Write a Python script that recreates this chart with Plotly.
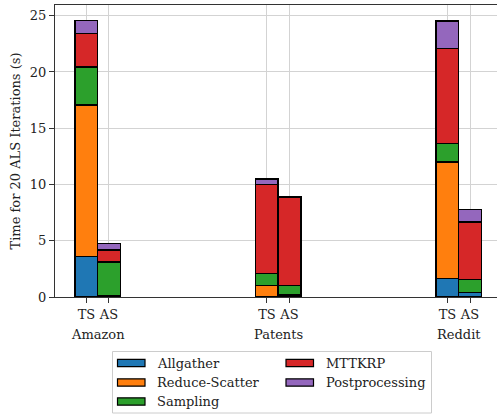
import plotly.graph_objects as go

# Per-phase timings (seconds for 20 ALS iterations)
datasets = ["Amazon", "Patents", "Reddit"]
methods = ["TS", "AS"]
phases = ["Allgather", "Reduce-Scatter", "Sampling", "MTTKRP", "Postprocessing"]
colors = ["#1f77b4", "#ff7f0e", "#2ca02c", "#d62728", "#9467bd"]

# order of values: Amazon TS, Amazon AS, Patents TS, Patents AS, Reddit TS, Reddit AS
allgather      = [3.62, 0.10, 0.05, 0.20, 1.64, 0.39]
reduce_scatter = [13.44, 0.05, 0.96, 0.02, 10.37, 0.02]
sampling       = [3.40, 2.98, 1.07, 0.80, 1.64, 1.14]
mttkrp         = [2.97, 1.04, 7.92, 7.83, 8.45, 5.12]
postprocessing = [1.13, 0.58, 0.47, 0.05, 2.43, 1.11]
series = [allgather, reduce_scatter, sampling, mttkrp, postprocessing]

FONT = "DejaVu Serif"
FS = 13
W, H = 497, 415
ML, MT, MB = 55, 5, 118
PW = W - ML
PH = H - MT - MB

BAR_W = 0.125
xpos = []
for g in range(len(datasets)):
    xpos += [g - BAR_W / 2, g + BAR_W / 2]
ticklabels = methods * len(datasets)

fig = go.Figure()
for name, vals, col in zip(phases, series, colors):
    fig.add_trace(go.Bar(
        x=xpos, y=vals, name=name, width=BAR_W,
        marker=dict(color=col, line=dict(color="black", width=1.5)),
        showlegend=False,
    ))


def px(x):
    return (x - ML) / PW


def py(y):
    return (H - MB - y) / PH


shapes = []
annotations = []

# group names under the TS/AS tick labels
for g, name in enumerate(datasets):
    annotations.append(dict(
        x=g, y=py(334), xref="x", yref="paper", text=name, showarrow=False,
        font=dict(family=FONT, size=FS, color="#222"), xanchor="center", yanchor="middle",
    ))

# legend box with two columns
shapes.append(dict(type="rect", xref="paper", yref="paper",
                   x0=px(112.5), x1=px(431.5), y0=py(413), y1=py(351.5),
                   line=dict(color="#cccccc", width=1), fillcolor="white", layer="above"))
col_x = [(117.5, 155), (286, 324)]
row_y = [363, 382.5, 401.5]
slots = [(0, 0), (0, 1), (0, 2), (1, 0), (1, 1)]
for (c, r), name, col in zip(slots, phases, colors):
    x0, tx = col_x[c]
    yc = row_y[r]
    shapes.append(dict(type="rect", xref="paper", yref="paper",
                       x0=px(x0), x1=px(x0 + 27.5), y0=py(yc + 3.7), y1=py(yc - 3.7),
                       line=dict(color="black", width=1.2), fillcolor=col, layer="above"))
    annotations.append(dict(x=px(tx), y=py(yc), xref="paper", yref="paper", text=name,
                            showarrow=False, xanchor="left", yanchor="middle",
                            font=dict(family=FONT, size=FS, color="#222")))

fig.update_layout(
    width=W, height=H,
    margin=dict(l=ML, r=0, t=MT, b=MB),
    barmode="stack",
    plot_bgcolor="white", paper_bgcolor="white",
    font=dict(family=FONT, size=FS, color="#222"),
    shapes=shapes, annotations=annotations,
    xaxis=dict(
        range=[-0.2366, 2.212], tickvals=xpos, ticktext=ticklabels,
        showgrid=True, gridcolor="#d3d3d3", gridwidth=1,
        showline=True, linecolor="#333", linewidth=1, mirror=True,
        ticks="outside", ticklen=5, tickcolor="#333", zeroline=False,
        tickfont=dict(family=FONT, size=FS, color="#222"),
    ),
    yaxis=dict(
        range=[0, 25.95], tickvals=[0, 5, 10, 15, 20, 25],
        showgrid=True, gridcolor="#d3d3d3", gridwidth=1,
        showline=True, linecolor="#333", linewidth=1,
        ticks="outside", ticklen=5, tickcolor="#333", zeroline=False,
        tickfont=dict(family=FONT, size=FS, color="#222"),
        title=dict(text="Time for 20 ALS Iterations (s)", font=dict(family=FONT, size=FS, color="#222"), standoff=6),
    ),
)

fig.write_html("out.html")
